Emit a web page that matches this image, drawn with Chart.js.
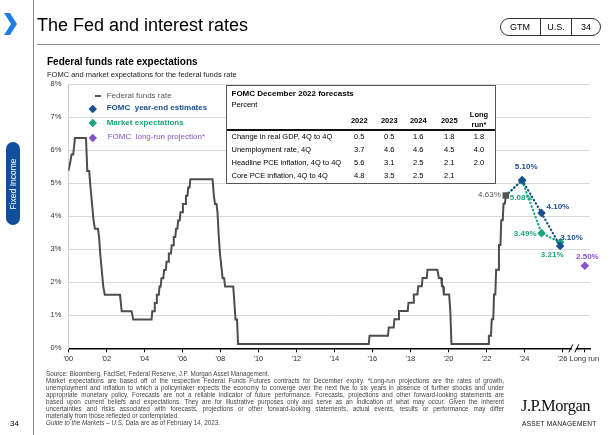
<!DOCTYPE html>
<html><head><meta charset="utf-8">
<script src="https://cdn.jsdelivr.net/npm/chart.js@4"></script>
<style>
html,body{margin:0;padding:0;background:#fff;}
body{width:612px;height:435px;position:relative;overflow:hidden;font-family:"Liberation Sans",Arial,sans-serif;color:#000;}
.abs{position:absolute;white-space:nowrap;}
#c{position:absolute;left:0;top:0;}
.leg{font-size:8px;line-height:10px;}
.dia{position:absolute;width:5.5px;height:5.5px;transform:rotate(45deg);}
#tbl{position:absolute;left:226px;top:85px;width:268px;height:97px;border:1px solid #555;background:#fff;}
#tbl .t{position:absolute;white-space:nowrap;font-size:7.5px;line-height:10px;}
.fn{position:absolute;left:46px;width:458px;font-size:6.3px;line-height:7px;color:#444;white-space:nowrap;}
.just{text-align:justify;text-align-last:justify;}
</style></head><body>

<!-- data -->
<script>
// Federal funds rate (percent)
const ffYears = [2000.00,2000.10,2000.17,2000.26,2000.35,2000.93,2001.00,2001.10,2001.17,2001.25,2001.33,2001.40,2001.56,2001.62,2001.68,2001.76,2001.84,2001.92,
 2002.72,2002.81,2003.33,2003.42,
 2004.38,2004.42,2004.51,2004.55,2004.62,2004.66,2004.76,2004.80,2004.86,2004.90,2005.00,2005.04,2005.13,2005.17,2005.25,2005.29,2005.40,2005.44,2005.51,2005.55,2005.63,2005.67,2005.74,2005.78,2005.86,2005.90,2005.99,2006.03,2006.15,2006.19,2006.27,2006.31,2006.38,2006.42,
 2007.59,2007.66,2007.72,2007.80,2007.85,2007.92,2007.98,2008.12,2008.20,2008.25,2008.68,2008.74,2008.80,2008.88,2008.93,
 2015.81,2015.85,2016.82,2016.86,2017.12,2017.16,2017.36,2017.40,2017.86,2017.90,2018.14,2018.18,2018.37,2018.41,2018.60,2018.64,2018.86,2018.90,
 2019.42,2019.50,2019.62,2019.66,2019.72,2019.76,2020.04,2020.10,2020.16,
 2022.09,2022.13,2022.24,2022.28,2022.36,2022.40,2022.47,2022.51,2022.62,2022.66,2022.74,2022.78,2022.86,2022.90,2022.97,2023.02];
const ffRates = [5.37,5.62,5.87,5.87,6.37,6.37,5.37,5.37,4.87,4.37,3.87,3.62,3.62,3.37,2.87,2.37,1.87,1.62,
 1.62,1.12,1.12,0.87,
 0.87,1.12,1.12,1.37,1.37,1.62,1.62,1.87,1.87,2.12,2.12,2.37,2.37,2.62,2.62,2.87,2.87,3.12,3.12,3.37,3.37,3.62,3.62,3.87,3.87,4.12,4.12,4.37,4.37,4.62,4.62,4.87,4.87,5.12,
 5.12,4.62,4.37,4.37,4.12,3.37,2.87,2.12,2.12,1.87,1.87,1.37,0.87,0.87,0.13,
 0.13,0.38,0.38,0.63,0.63,0.88,0.88,1.13,1.13,1.38,1.38,1.63,1.63,1.88,1.88,2.13,2.13,2.38,
 2.38,2.13,2.13,1.88,1.88,1.63,1.63,1.13,0.13,
 0.13,0.38,0.38,0.88,0.88,1.63,1.63,2.38,2.38,3.13,3.13,3.88,3.88,4.38,4.38,4.63];
// Year-end projections
const estYears = [2023.88, 2024.90, 2025.88];
const fomcEst = [5.10, 4.10, 3.10];
const marketExp = [5.08, 3.49, 3.21];
const longRunPos = 2027.18;
const longRunRate = 2.50;
// Axis ticks
const xTickVals = [2000,2002,2004,2006,2008,2010,2012,2014,2016,2018,2020,2022,2024,2026,2027.15];
const xTickLabels = ["'00","'02","'04","'06","'08","'10","'12","'14","'16","'18","'20","'22","'24","'26","Long run"];
const yTickVals = [0,1,2,3,4,5,6,7,8];
// FOMC December 2022 table
const tableCols = ['2022','2023','2024','2025'];
const tableRowLabels = ['Change in real GDP, 4Q to 4Q','Unemployment rate, 4Q','Headline PCE inflation, 4Q to 4Q','Core PCE inflation, 4Q to 4Q'];
const gdpRow = [0.5,0.5,1.6,1.8,1.8];
const unempRow = [3.7,4.6,4.6,4.5,4.0];
const headlineRow = [5.6,3.1,2.5,2.1,2.0];
const coreRow = [4.8,3.5,2.5,2.1,null];
</script>

<canvas id="c" width="612" height="435"></canvas>

<!-- left rail -->
<svg class="abs" style="left:0;top:0" width="30" height="40"><polygon points="4,13 10,13 17,24 10,35 4,35 11,24" fill="#1e7fe0"/></svg>
<div class="abs" style="left:33px;top:0;width:1px;height:435px;background:#8a8a8a"></div>
<div class="abs" style="left:6px;top:142px;width:14px;height:83px;border-radius:7px;background:#114e9b"></div>
<div class="abs" style="left:13px;top:183.5px;transform:translate(-50%,-50%) rotate(-90deg);color:#fff;font-size:8.5px;line-height:10px">Fixed Income</div>
<div class="abs" style="left:10px;top:419px;font-size:8px;line-height:10px">34</div>

<!-- header -->
<div class="abs" style="left:37px;top:14px;font-size:18px;line-height:22px">The Fed and interest rates</div>
<div class="abs" style="left:500px;top:18px;width:99px;height:16px;border:1px solid #333;border-radius:9px"></div>
<div class="abs" style="left:540px;top:18px;width:1px;height:18px;background:#333"></div>
<div class="abs" style="left:571px;top:18px;width:1px;height:18px;background:#333"></div>
<div class="abs" style="left:500px;top:21px;width:40px;text-align:center;font-size:9px;line-height:12px">GTM</div>
<div class="abs" style="left:541px;top:21px;width:30px;text-align:center;font-size:9px;line-height:12px">U.S.</div>
<div class="abs" style="left:572px;top:21px;width:28px;text-align:center;font-size:9px;line-height:12px">34</div>
<div class="abs" style="left:37px;top:44px;width:563px;height:1px;background:#8a8a8a"></div>

<div class="abs" style="left:47px;top:56px;font-size:10px;line-height:12px;font-weight:bold">Federal funds rate expectations</div>
<div class="abs" style="left:47px;top:70px;font-size:7.5px;line-height:9px;color:#222">FOMC and market expectations for the federal funds rate</div>

<!-- legend -->
<div class="abs" style="left:95px;top:94.7px;width:6px;height:2px;background:#555"></div>
<div class="abs leg" style="left:106.7px;top:90.7px;color:#555">Federal funds rate</div>
<div class="dia" style="left:90px;top:105.5px;background:#1b4f8f"></div>
<div class="abs leg" style="left:106.7px;top:103.3px;color:#1b4f8f;font-weight:bold">FOMC&nbsp; year-end estimates</div>
<div class="dia" style="left:90px;top:120px;background:#18a57b"></div>
<div class="abs leg" style="left:106.7px;top:117.7px;color:#18a57b;font-weight:bold">Market expectations</div>
<div class="dia" style="left:90px;top:134.5px;background:#8852cc"></div>
<div class="abs leg" style="left:107.7px;top:132.3px;color:#8852cc">FOMC&nbsp; long-run projection*</div>

<!-- table -->
<div id="tbl"></div>

<!-- footnotes -->
<div class="fn" style="top:370px">Source: Bloomberg, FactSet, Federal Reserve, J.P. Morgan Asset Management.</div>
<div class="fn just" style="top:377px">Market expectations are based off of the respective Federal Funds Futures contracts for December expiry. *Long-run projections are the rates of growth,</div>
<div class="fn just" style="top:384px">unemployment and inflation to which a policymaker expects the economy to converge over the next five to six years in absence of further shocks and under</div>
<div class="fn just" style="top:391px">appropriate monetary policy. Forecasts are not a reliable indicator of future performance. Forecasts, projections and other forward-looking statements are</div>
<div class="fn just" style="top:398px">based upon current beliefs and expectations. They are for illustrative purposes only and serve as an indication of what may occur. Given the inherent</div>
<div class="fn just" style="top:405px">uncertainties and risks associated with forecasts, projections or other forward-looking statements, actual events, results or performance may differ</div>
<div class="fn" style="top:412px">materially from those reflected or contemplated.</div>
<div class="fn" style="top:419px"><i>Guide to the Markets – U.S.</i> Data are as of February 14, 2023.</div>

<div class="abs" style="left:521px;top:397px;font-family:'Liberation Serif','Times New Roman',serif;font-size:16.5px;line-height:18px;letter-spacing:-0.5px;color:#111">J.P.Morgan</div>
<div class="abs" style="left:522px;top:420px;font-size:6.6px;line-height:8px;letter-spacing:0.25px;color:#111">ASSET MANAGEMENT</div>

<script>
// build table
(function(){
  const tbl = document.getElementById('tbl');
  const ox = 227, oy = 86; // inner origin in page coords
  const colX = [359.3, 389.3, 418.3, 449.3, 479];
  const rowY = [136.7, 149.7, 162.7, 175.7];
  function add(txt, x, y, style, center){
    const d = document.createElement('div');
    d.className = 't';
    d.textContent = txt;
    d.style.top = (y - oy - 5) + 'px';
    if (center){ d.style.left = (x - ox - 20) + 'px'; d.style.width = '40px'; d.style.textAlign = 'center'; }
    else d.style.left = (x - ox) + 'px';
    if (style) Object.assign(d.style, style);
    tbl.appendChild(d);
  }
  add('FOMC December 2022 forecasts', 231.5, 94, {fontWeight:'bold', fontSize:'8px'});
  add('Percent', 231.5, 105, {});
  tableCols.forEach((c,i)=> add(c, colX[i], 120.7, {fontWeight:'bold'}, true));
  add('Long', colX[4], 115, {fontWeight:'bold'}, true);
  add('run*', colX[4], 125, {fontWeight:'bold'}, true);
  const rule = document.createElement('div');
  rule.style.cssText = 'position:absolute;left:0;width:268px;height:1.5px;background:#111;top:' + (129 - oy) + 'px';
  tbl.appendChild(rule);
  const rows = [gdpRow, unempRow, headlineRow, coreRow];
  rows.forEach((r, ri) => {
    add(tableRowLabels[ri], 231.5, rowY[ri], {});
    r.forEach((v, ci) => { if (v !== null) add(v.toFixed(1), colX[ci], rowY[ci === -1 ? 0 : ri], {}, true); });
  });
})();

const BLUE = '#1b4f8f', GREEN = '#18a57b', PURPLE = '#8852cc', GRAY = '#4d4d4d';
const FONT = "'Liberation Sans', Arial, sans-serif";
const lastX = ffYears[ffYears.length-1], lastY = ffRates[ffRates.length-1];

const ffData = ffYears.map((x,i)=>({x, y: ffRates[i]}));
const estData = [{x:lastX,y:lastY}].concat(estYears.map((x,i)=>({x, y: fomcEst[i]})));
const mktData = [{x:lastX,y:lastY}].concat(estYears.map((x,i)=>({x, y: marketExp[i]})));

// label styling (offsets in px from the point)
const labelDefs = [
  {x:lastX, y:lastY, color:'#555', weight:'normal', dx:-5, dy:-1, align:'right'},
  {x:estYears[0], y:fomcEst[0], color:BLUE, weight:'bold', dx:4, dy:-13, align:'center'},
  {x:estYears[0], y:marketExp[0], color:GREEN, weight:'bold', dx:-1, dy:17, align:'center'},
  {x:estYears[1], y:fomcEst[1], color:BLUE, weight:'bold', dx:5, dy:-6, align:'left'},
  {x:estYears[1], y:marketExp[1], color:GREEN, weight:'bold', dx:-5, dy:1, align:'right'},
  {x:estYears[2], y:fomcEst[2], color:BLUE, weight:'bold', dx:0, dy:-8, align:'left'},
  {x:estYears[2], y:marketExp[2], color:GREEN, weight:'bold', dx:-8, dy:12, align:'center'},
  {x:longRunPos, y:longRunRate, color:PURPLE, weight:'bold', dx:2.5, dy:-9, align:'center'}
];
const breakPos = 2026.6;

const extras = {
  id:'extras',
  afterDraw(chart){
    const {ctx, scales:{x, y}} = chart;
    ctx.save();
    // axis break
    const bx = x.getPixelForValue(breakPos), by = y.getPixelForValue(0);
    ctx.fillStyle = '#fff';
    ctx.fillRect(bx-2, by-1.5, 4, 3);
    ctx.strokeStyle = '#000'; ctx.lineWidth = 1;
    ctx.beginPath();
    ctx.moveTo(bx-5, by+4); ctx.lineTo(bx-1, by-4);
    ctx.moveTo(bx+1, by+4); ctx.lineTo(bx+5, by-4);
    ctx.stroke();
    // value labels
    ctx.textBaseline = 'middle';
    labelDefs.forEach(l => {
      ctx.font = l.weight + ' 8px ' + FONT;
      ctx.fillStyle = l.color;
      ctx.textAlign = l.align;
      ctx.fillText(l.y.toFixed(2) + '%', x.getPixelForValue(l.x) + l.dx, y.getPixelForValue(l.y) + l.dy);
    });
    ctx.restore();
  }
};

new Chart(document.getElementById('c'), {
  type:'line',
  data:{datasets:[
    {data:[{x:lastX,y:lastY}], showLine:false, pointStyle:'rect', pointRadius:4.6, pointBackgroundColor:'#555', pointBorderColor:'#555', pointBorderWidth:0},
    {data:estData, borderColor:BLUE, borderWidth:2.2, borderDash:[0.5,3.3], borderCapStyle:'round', pointStyle:'rectRot', pointRadius:[0,4.3,4.3,4.3], pointBackgroundColor:BLUE, pointBorderColor:BLUE, pointBorderWidth:0},
    {data:mktData, borderColor:GREEN, borderWidth:2.2, borderDash:[0.5,3.3], borderCapStyle:'round', pointStyle:'rectRot', pointRadius:[0,4.3,4.3,4.3], pointBackgroundColor:GREEN, pointBorderColor:GREEN, pointBorderWidth:0},
    {data:[{x:longRunPos,y:longRunRate}], showLine:false, pointStyle:'rectRot', pointRadius:4.3, pointBackgroundColor:PURPLE, pointBorderColor:PURPLE, pointBorderWidth:0},
    {data:ffData, borderColor:GRAY, borderWidth:2, pointRadius:0, tension:0, borderJoinStyle:'miter'}
  ]},
  options:{
    responsive:false, animation:false, devicePixelRatio:1,
    layout:{padding:{left:0, right:22, top:84.3, bottom:66.7}},
    plugins:{legend:{display:false}, tooltip:{enabled:false}},
    scales:{
      x:{type:'linear', min:2000, max:2027.45,
        afterBuildTicks:s=>{ s.ticks = xTickVals.map(v=>({value:v})); },
        afterFit:s=>{ s.height = 20; },
        grid:{display:true, drawOnChartArea:false, drawTicks:true, tickLength:4, color:'#000', lineWidth:1},
        border:{display:true, color:'#000', width:1.5},
        ticks:{autoSkip:false, maxRotation:0, minRotation:0, padding:2, color:'#333', font:{size:7.5, family:FONT},
          callback:(v,i)=>xTickLabels[i]}
      },
      y:{min:0, max:8,
        afterBuildTicks:s=>{ s.ticks = yTickVals.map(v=>({value:v})); },
        afterFit:s=>{ s.width = 68.3; },
        grid:{color:'#dadada', lineWidth:1, drawTicks:false},
        border:{display:true, color:'#cfcfcf', width:1},
        ticks:{padding:7, color:'#333', font:{size:7.5, family:FONT}, callback:v=>v+'%'}
      }
    }
  },
  plugins:[extras]
});
</script>
</body></html>
